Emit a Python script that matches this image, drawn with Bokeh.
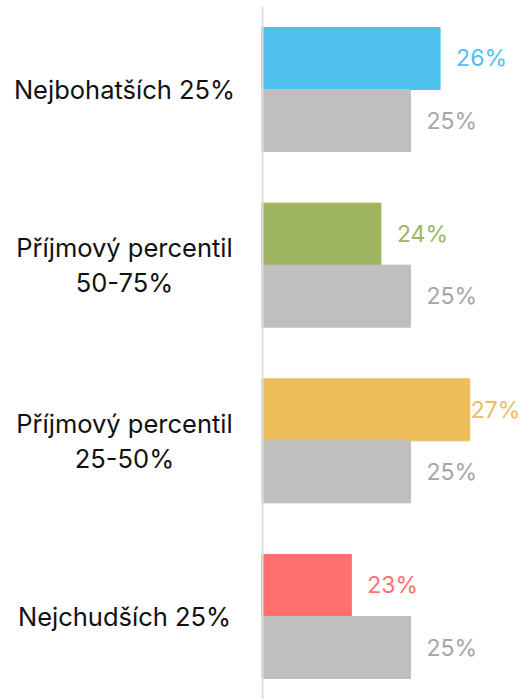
from bokeh.plotting import figure
from bokeh.models import ColumnDataSource, FactorRange, Range1d, Span
from bokeh.layouts import row
from bokeh.transform import dodge
from bokeh.core.properties import value
from bokeh.embed import file_html
from bokeh.resources import INLINE

# ---- data ----
categories = ["Nejbohatších 25%", "Příjmový percentil\n50-75%",
              "Příjmový percentil\n25-50%", "Nejchudších 25%"]
group_values = [26, 24, 27, 23]
reference_values = [25, 25, 25, 25]
group_colors = ["#4FC1EF", "#9EB45F", "#EDBE5B", "#FF6F6F"]
ref_color = "#BFBFBF"
ref_label_color = "#A6A6A6"

FONT = "Inter"
CAT_FS = "25.5px"
VAL_FS = "23px"

x_start, x_end = 20, 28.885
px_per_unit = 29.6
H = 699
TOP = 6

y_range = FactorRange(factors=list(reversed(categories)), range_padding=-0.0275,
                      range_padding_units="absolute")

src_g = ColumnDataSource(dict(
    cat=categories, val=group_values, color=group_colors,
    label=[f"{v}%" for v in group_values],
    off=[16 if v + 2.2 < x_end else 1 for v in group_values],
))
src_r = ColumnDataSource(dict(
    cat=categories, val=reference_values,
    label=[f"{v}%" for v in reference_values],
    off=[16 if v + 2.2 < x_end else 1 for v in reference_values],
))
src_c = ColumnDataSource(dict(cat=categories))

# ---- left: category labels ----
left = figure(width=261, height=H, output_backend="svg", toolbar_location=None,
              y_range=y_range, x_range=Range1d(0, 261),
              min_border_left=0, min_border_right=0, min_border_top=TOP,
              min_border_bottom=0)
left.text(x=124, y="cat", text="cat", text_align="center", text_baseline="middle",
          text_font=value(FONT), text_font_size=CAT_FS, text_color="#111111",
          text_line_height=1.15, source=src_c)
left.axis.visible = False
left.grid.visible = False
left.outline_line_color = None

# ---- right: bars ----
p = figure(width=264, height=H, output_backend="svg", toolbar_location=None,
           y_range=y_range,
           x_range=Range1d(x_start - 1 / px_per_unit, x_end),
           min_border_left=0, min_border_right=0, min_border_top=TOP,
           min_border_bottom=0)

bh = 0.353
p.hbar(y=dodge("cat", bh / 2, range=p.y_range), right="val", left=0,
       height=bh, color="color", source=src_g)
p.hbar(y=dodge("cat", -bh / 2, range=p.y_range), right="val", left=0,
       height=bh, color=ref_color, source=src_r)

p.text(x="val", y=dodge("cat", bh / 2, range=p.y_range), text="label",
       x_offset="off", text_color="color", text_baseline="middle",
       text_font=value(FONT), text_font_size=VAL_FS, source=src_g)
p.text(x="val", y=dodge("cat", -bh / 2, range=p.y_range), text="label",
       x_offset="off", text_color=ref_label_color, text_baseline="middle",
       text_font=value(FONT), text_font_size=VAL_FS, source=src_r)

p.add_layout(Span(location=x_start, dimension="height",
                  line_color="#DDDDDD", line_width=2))

p.axis.visible = False
p.grid.visible = False
p.outline_line_color = None

layout = row(left, p, spacing=0)
open("out.html", "w").write(file_html(layout, INLINE))
